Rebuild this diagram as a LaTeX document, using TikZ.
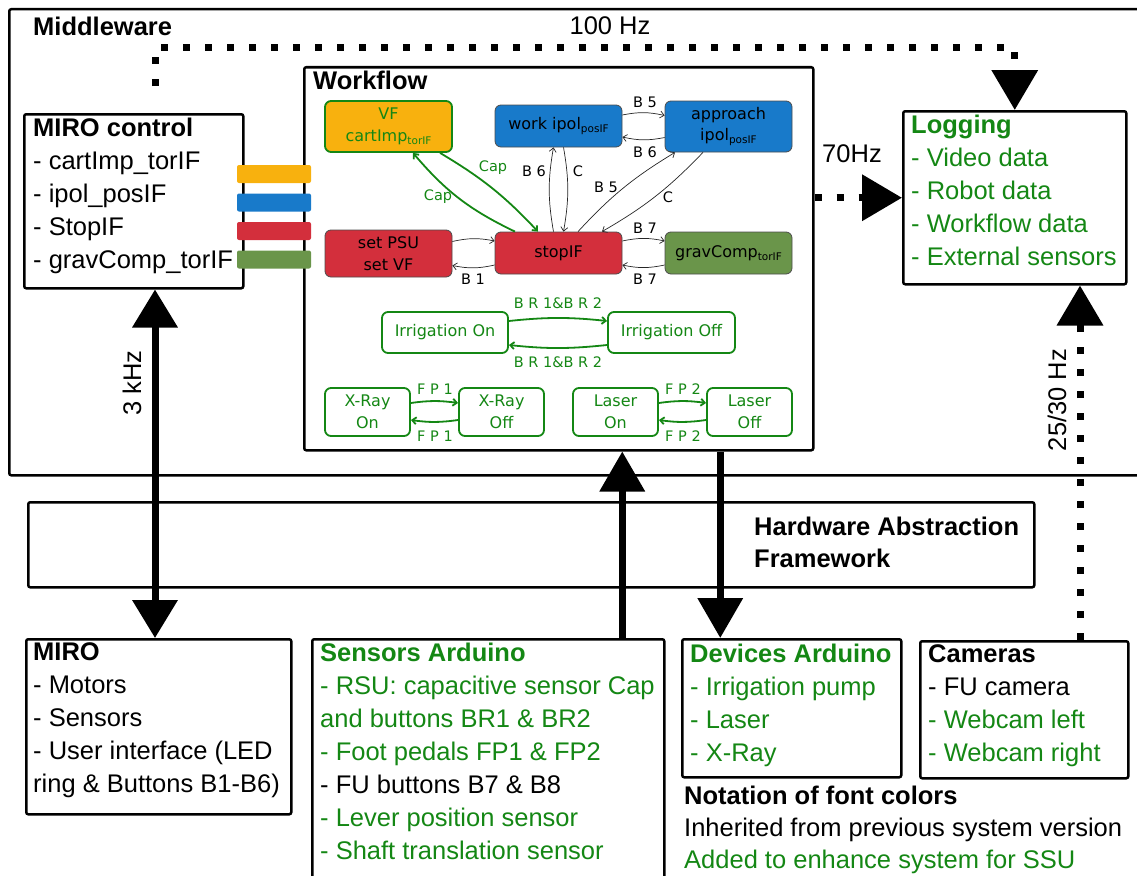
\documentclass[tikz,border=0pt]{standalone}
\usepackage{fontspec}
\setmainfont{Liberation Sans}
\newfontfamily\wff{DejaVu Sans}
\usetikzlibrary{arrows.meta,calc}
\definecolor{G}{RGB}{20,135,20}
\definecolor{cOr}{RGB}{248,177,14}
\definecolor{cBl}{RGB}{24,122,202}
\definecolor{cRd}{RGB}{211,47,60}
\definecolor{cGn}{RGB}{106,149,74}
\newcommand\sbs[1]{\raisebox{-0.35ex}{\fontsize{10.5}{11}\selectfont #1}}
\begin{document}
\begin{tikzpicture}[x=1pt,y=-1pt,
  body/.style={font=\fontsize{25.5}{33}\selectfont, inner sep=0, anchor=base west},
  hd/.style={body, font=\fontsize{25.5}{33}\selectfont\bfseries},
  frame/.style={draw, line width=2.5pt, rounded corners=2pt, inner sep=0, anchor=north west},
  bar/.style={rounded corners=2pt, minimum width=74pt, minimum height=18pt, inner sep=0},
  st/.style={draw=black!70, line width=0.8pt, rounded corners=6pt, inner sep=0, align=center,
     minimum width=127pt, font=\wff\fontsize{16}{21.5}\selectfont},
  gst/.style={st, draw=G, line width=1.8pt, text=G, fill=white},
  tr/.style={-{Straight Barb[length=4pt,width=7pt]}, line width=0.7pt, black!85},
  gtr/.style={tr, draw=G, line width=1.8pt},
  el/.style={font=\wff\fontsize{14.5}{14.5}\selectfont, inner sep=0},
  big/.style={line width=7pt, -{Triangle[length=40pt,width=44pt]}},
  bigd/.style={line width=7pt, {Triangle[length=38pt,width=44pt]}-{Triangle[length=38pt,width=44pt]}},
  dots/.style={line width=7pt, dash pattern=on 7pt off 15pt},
  dotarr/.style={dots, -{Triangle[length=40pt,width=45pt]}},
]
\useasboundingbox (0,0) rectangle (1137,875);
\clip (0,0) rectangle (1137,875);

% frames
\node[frame, minimum width=1160pt, minimum height=466pt] (mw) at (8,8) {};
\node[frame, minimum width=509pt, minimum height=383pt] (wf) at (303,66) {};
\node[frame, minimum width=219pt, minimum height=174pt] (mc) at (23,113) {};
\node[frame, minimum width=223pt, minimum height=173pt] (log) at (902,110) {};
\node[frame, minimum width=1006pt, minimum height=85pt] (haf) at (27,501) {};
\node[frame, minimum width=265pt, minimum height=175pt] (miro) at (25,638) {};
\node[frame, minimum width=352pt, minimum height=250pt] (sens) at (311,638) {};
\node[frame, minimum width=219pt, minimum height=138pt] (dev) at (681,638) {};
\node[frame, minimum width=208pt, minimum height=137pt] (cam) at (919,640) {};

% texts
\node[hd] (tmw) at (33,36) {Middleware};
\node[body, anchor=base] (t100) at (610,35) {100 Hz};
\node[hd] (twf) at (313,89) {Workflow};
\node[body, anchor=base] (t70) at (852,162) {70Hz};
\foreach \t [count=\i] in {{\bfseries MIRO control}, - cartImp\_torIF, - ipol\_posIF, - StopIF, - gravComp\_torIF}
  \node[body] (tmc\i) at (33,{136+33*(\i-1)}) {\t};
\foreach \t [count=\i] in {{\bfseries Logging}, - Video data, - Robot data, - Workflow data, - External sensors}
  \node[body, text=G] (tlog\i) at (911,{133+33*(\i-1)}) {\t};
\node[hd] (thaf1) at (754,535) {Hardware Abstraction};
\node[hd] (thaf2) at (754,567) {Framework};
\foreach \t [count=\i] in {{\bfseries MIRO}, - Motors, - Sensors, - User interface (LED, ring \& Buttons B1-B6)}
  \node[body] (tmiro\i) at (33,{660+33*(\i-1)}) {\t};
\foreach \t [count=\i] in {{\color{G}\bfseries Sensors Arduino}, {\color{G}- RSU: capacitive sensor Cap}, {\color{G}and buttons BR1 \& BR2}, {\color{G}- Foot pedals FP1 \& FP2}, - FU buttons B7 \& B8, {\color{G}- Lever position sensor}, {\color{G}- Shaft translation sensor}}
  \node[body] (tsens\i) at (320,{661+33*(\i-1)}) {\t};
\foreach \t [count=\i] in {{\bfseries Devices Arduino}, - Irrigation pump, - Laser, - X-Ray}
  \node[body, text=G] (tdev\i) at (690,{662+33*(\i-1)}) {\t};
\foreach \t [count=\i] in {{\bfseries Cameras}, - FU camera, {\color{G}- Webcam left}, {\color{G}- Webcam right}}
  \node[body] (tcam\i) at (928,{662+33*(\i-1)}) {\t};
\node[hd] (tn1) at (684,804) {Notation of font colors};
\node[body] (tn2) at (684,836) {Inherited from previous system version};
\node[body, text=G] (tn3) at (684,868) {Added to enhance system for SSU};

% colour bars
\node[bar, fill=cOr] (bO) at (274,174) {};
\node[bar, fill=cBl] (bB) at (274,202.5) {};
\node[bar, fill=cRd] (bR) at (274,231) {};
\node[bar, fill=cGn] (bG) at (274,259.5) {};

% states
\node[st, fill=cOr, draw=G, line width=1.8pt, text=G, minimum height=51pt] (vf) at (388.5,126.5) {VF\\cartImp\sbs{torIF}};
\node[st, fill=cBl, minimum height=42pt] (work) at (558.5,126) {work ipol\sbs{posIF}};
\node[st, fill=cBl, minimum height=51pt] (appr) at (728.5,126.5) {approach\\ipol\sbs{posIF}};
\node[st, fill=cRd, minimum height=47pt] (psu) at (388.5,253.5) {set PSU\\set VF};
\node[st, fill=cRd, minimum height=42pt] (stop) at (558.5,253) {stopIF};
\node[st, fill=cGn, minimum height=42pt] (grav) at (728.5,253) {gravComp\sbs{torIF}};
\node[gst, minimum width=126pt, minimum height=41pt] (irrOn) at (445,332.5) {Irrigation On};
\node[gst, minimum height=41pt] (irrOff) at (671.5,332.5) {Irrigation Off};
\node[gst, minimum width=85pt, minimum height=48pt] (xOn) at (367.5,412) {X-Ray\\On};
\node[gst, minimum width=85pt, minimum height=48pt] (xOff) at (501.5,412) {X-Ray\\Off};
\node[gst, minimum width=85pt, minimum height=48pt] (lOn) at (615.5,412) {Laser\\On};
\node[gst, minimum width=85pt, minimum height=48pt] (lOff) at (749.5,412) {Laser\\Off};

% transitions
\draw[tr] ([yshift=11pt]work.east) to[bend left=12] ([yshift=11pt]appr.west);
\draw[tr] ([yshift=-11pt]appr.west) to[bend left=12] ([yshift=-11pt]work.east);
\draw[tr] ([xshift=-5pt]stop.north) to[bend left=10] ([xshift=-5pt]work.south);
\draw[tr] ([xshift=5pt]work.south) to[bend left=10] ([xshift=5pt]stop.north);
\draw[tr] ([xshift=19.5pt]stop.north) to[bend left=8] ([xshift=-53.5pt]appr.south);
\draw[tr] ([xshift=-25.5pt]appr.south) to[bend left=8] ([xshift=43.5pt]stop.north);
\draw[tr] ([yshift=12pt]stop.east) to[bend left=12] ([yshift=12pt]grav.west);
\draw[tr] ([yshift=-12pt]grav.west) to[bend left=12] ([yshift=-12pt]stop.east);
\draw[tr] ([yshift=12pt]psu.east) to[bend left=12] ([yshift=12pt]stop.west);
\draw[tr] ([yshift=-12pt]stop.west) to[bend left=12] ([yshift=-12pt]psu.east);
\draw[gtr] ([xshift=51.5pt]vf.south) to[bend left=8] ([xshift=-20.5pt]stop.north);
\draw[gtr] ([xshift=-43.5pt]stop.north) to[bend left=12] ([xshift=24.5pt]vf.south);
\draw[gtr] ([yshift=11.5pt]irrOn.east) to[bend left=6] ([yshift=11.5pt]irrOff.west);
\draw[gtr] ([yshift=-12.5pt]irrOff.west) to[bend left=6] ([yshift=-12.5pt]irrOn.east);
\draw[gtr] ([yshift=9pt]xOn.east) to[bend left=8] ([yshift=9pt]xOff.west);
\draw[gtr] ([yshift=-8pt]xOff.west) to[bend left=8] ([yshift=-8pt]xOn.east);
\draw[gtr] ([yshift=9pt]lOn.east) to[bend left=8] ([yshift=9pt]lOff.west);
\draw[gtr] ([yshift=-8pt]lOff.west) to[bend left=8] ([yshift=-8pt]lOn.east);

% transition labels
\node[el] (lB5a) at (645,102) {B 5};
\node[el] (lB6a) at (645,152) {B 6};
\node[el] (lB6b) at (534,171) {B 6};
\node[el] (lCa) at (578,171) {C};
\node[el] (lB5b) at (606,187) {B 5};
\node[el] (lCb) at (668,197) {C};
\node[el] (lB7a) at (645,228) {B 7};
\node[el] (lB7b) at (645,279) {B 7};
\node[el] (lB1) at (473,279) {B 1};
\node[el, text=G] (lCap1) at (493,168) {Cap};
\node[el, text=G] (lCap2) at (438,197) {Cap};
\node[el, text=G] (lBR1) at (558,303) {B R 1\&B R 2};
\node[el, text=G] (lBR2) at (558,362) {B R 1\&B R 2};
\node[el, text=G] (lFP1a) at (435,389) {F P 1};
\node[el, text=G] (lFP1b) at (435,436) {F P 1};
\node[el, text=G] (lFP2a) at (683,389) {F P 2};
\node[el, text=G] (lFP2b) at (683,436) {F P 2};

% big arrows
\coordinate (k3) at ($(mc.south west)+(132,0)$);
\draw[bigd] (k3) -- (k3 |- miro.north);
\node[body, rotate=90, anchor=center] (t3k) at (132,383) {3 kHz};
\coordinate (sup) at ($(wf.south)+(63.5,0)$);
\draw[big] (sup |- sens.north) -- (sup);
\coordinate (ddn) at ($(wf.south)+(161.5,0)$);
\draw[big] (ddn) -- (ddn |- dev.north);

% dotted data links
\coordinate (h100) at (155,86);
\draw[dotarr] (h100) -- (155,48) -- (log.north |- 0,48) -- (log.north);
\draw[dotarr] (wf.east |- log.west) -- (log.west);
\draw[dotarr] ($(cam.north west)+(161,0)$) -- ($(log.south west)+(178,0)$);
\node[body, rotate=90, anchor=center] (t2530) at (1057,400) {25/30 Hz};
\end{tikzpicture}
\end{document}
